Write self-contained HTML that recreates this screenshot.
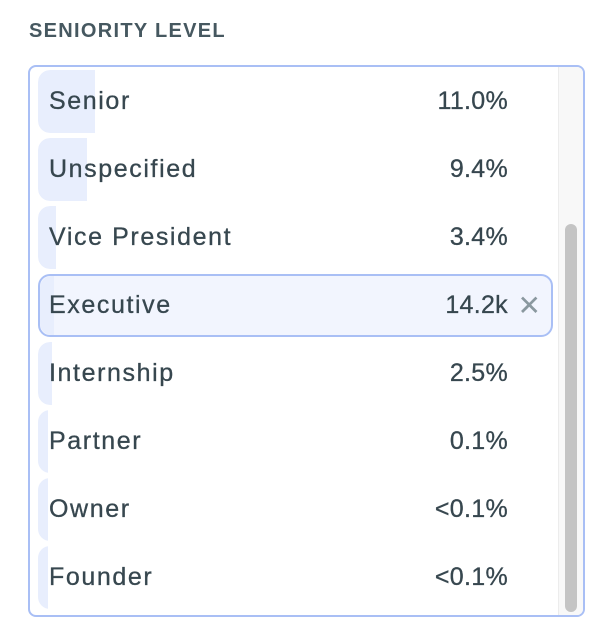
<!DOCTYPE html>
<html><head><style>
body{margin:0;width:616px;height:642px;background:#fff;font-family:"Liberation Sans",sans-serif;position:relative;overflow:hidden;color:#37474f}
.h{position:absolute;left:29px;top:20px;font-size:20px;font-weight:bold;color:#465860;letter-spacing:1.3px}
.box{position:absolute;left:28px;top:65px;width:557px;height:552px;border:2px solid #a9bff5;border-radius:8px;box-sizing:border-box;overflow:hidden}
.track{position:absolute;right:0;top:0;width:24px;height:100%;background:#f8f8f8;border-left:1px solid #ececec}
.thumb{position:absolute;left:6px;top:157px;width:12px;height:388px;background:#c4c4c4;border-radius:6px}
.row{position:absolute;left:8px;width:515px;height:63px;border-radius:12px;overflow:hidden}
.bar{position:absolute;left:0;top:0;height:100%;background:#e8eefd;border-radius:12px 0 0 12px}
.l{position:absolute;left:11px;top:17px;font-size:25px;letter-spacing:1.6px;-webkit-text-stroke:0.3px #37474f}
.v{position:absolute;right:45px;top:17px;font-size:25px;letter-spacing:0.3px;-webkit-text-stroke:0.3px #37474f}
.sel{border:2px solid #a9bff5;background:#f2f5fe;box-sizing:border-box}
.sel .l{left:9px;top:15px}.sel .v{right:43px;top:15px}
.x{position:absolute;right:10px;top:13px;font-size:28px;color:#8a989f}
</style></head><body>
<div class="h">SENIORITY LEVEL</div>
<div class="box">
<div class="row" style="top:3px"><div class="bar" style="width:57px"></div><span class="l">Senior</span><span class="v">11.0%</span></div>
<div class="row" style="top:71px"><div class="bar" style="width:49px"></div><span class="l">Unspecified</span><span class="v">9.4%</span></div>
<div class="row" style="top:139px"><div class="bar" style="width:18px"></div><span class="l">Vice President</span><span class="v">3.4%</span></div>
<div class="row sel" style="top:207px"><div class="bar" style="width:14px"></div><span class="l">Executive</span><span class="v">14.2k</span><span class="x">✕</span></div>
<div class="row" style="top:275px"><div class="bar" style="width:14px"></div><span class="l">Internship</span><span class="v">2.5%</span></div>
<div class="row" style="top:343px"><div class="bar" style="width:10px"></div><span class="l">Partner</span><span class="v">0.1%</span></div>
<div class="row" style="top:411px"><div class="bar" style="width:10px"></div><span class="l">Owner</span><span class="v">&lt;0.1%</span></div>
<div class="row" style="top:479px"><div class="bar" style="width:10px"></div><span class="l">Founder</span><span class="v">&lt;0.1%</span></div>
<div class="track"><div class="thumb"></div></div>
</div>
</body></html>
